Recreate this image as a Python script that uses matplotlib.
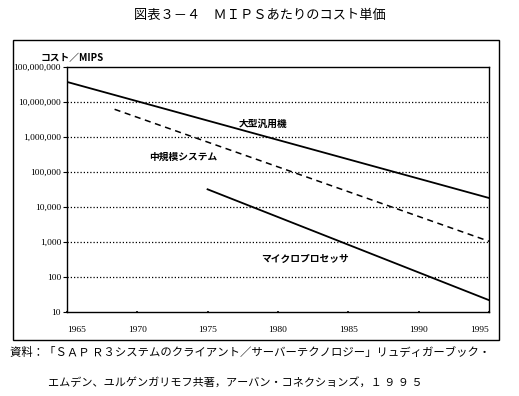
import matplotlib
matplotlib.use('Agg')
import matplotlib.pyplot as plt
from matplotlib.patches import Rectangle
from matplotlib.ticker import FixedLocator, FixedFormatter

plt.rcParams['font.family'] = ['Noto Sans CJK JP', 'DejaVu Sans']

# Data (cost per MIPS, log scale)
mainframe_years = [1965, 1995]
mainframe_cost = [3.7e7, 1.8e4]
midrange_years = [1968.4, 1995]
midrange_cost = [6.1e6, 1.05e3]
micro_years = [1975, 1995]
micro_cost = [3.2e4, 22]

x_ticks = [1965, 1970, 1975, 1980, 1985, 1990, 1995]
y_ticks = [10, 100, 1e3, 1e4, 1e5, 1e6, 1e7, 1e8]
y_labels = ['10', '100', '1,000', '10,000', '100,000', '1,000,000',
            '10,000,000', '100,000,000']

fig = plt.figure(figsize=(5.19, 3.96), dpi=100)
ax = fig.add_axes([0.1285, 0.2114, 0.8143, 0.6202])

ax.plot(mainframe_years, mainframe_cost, color='black', lw=1.3)
ax.plot(midrange_years, midrange_cost, color='black', lw=1.1, dashes=(4, 3))
ax.plot(micro_years, micro_cost, color='black', lw=1.3)

ax.set_yscale('log')
ax.set_ylim(10, 1e8)
ax.set_xlim(1965, 1995)

ax.yaxis.set_major_locator(FixedLocator(y_ticks))
ax.yaxis.set_major_formatter(FixedFormatter(y_labels))
ax.yaxis.set_minor_locator(FixedLocator([]))
ax.set_xticks(x_ticks)
ax.set_xticklabels([str(y) for y in x_ticks])

# dotted gridlines at each decade
for v in y_ticks[1:-1]:
    ax.axhline(v, color='black', lw=0.9, dashes=(1, 1.6))

for s in ax.spines.values():
    s.set_linewidth(1.0)

ax.tick_params(axis='y', length=3, width=0.8, pad=1, labelsize=6.8)
ax.tick_params(axis='x', length=2, width=1.2, direction='inout', pad=9,
               labelsize=6.8)
for lab in ax.get_yticklabels() + ax.get_xticklabels():
    lab.set_family(['Liberation Serif'])
xl = ax.get_xticklabels()
xl[0].set_ha('left')
xl[-1].set_ha('right')

# series labels
fig.text(263 / 519, 1 - 124 / 396, '大型汎用機', ha='center', va='center',
         fontsize=7, fontweight='bold')
fig.text(183 / 519, 1 - 157 / 396, '中規模システム', ha='center', va='center',
         fontsize=7, fontweight='bold')
fig.text(305 / 519, 1 - 259 / 396, 'マイクロプロセッサ', ha='center', va='center',
         fontsize=7, fontweight='bold')
fig.text(72 / 519, 1 - 58 / 396, 'コスト／MIPS', ha='center', va='center',
         fontsize=7, fontweight='bold')

# title and source
fig.text(260 / 519, 1 - 15 / 396, '図表３－４　ＭＩＰＳあたりのコスト単価',
         ha='center', va='center', fontsize=9.5)
fig.text(10 / 519, 1 - 352 / 396,
         '資料：「ＳＡＰ Ｒ３システムのクライアント／サーバーテクノロジー」リュディガーブック・',
         ha='left', va='center', fontsize=8.2)
fig.text(48 / 519, 1 - 382 / 396,
         'エムデン、ユルゲンガリモフ共著，アーバン・コネクションズ，１ ９ ９ ５',
         ha='left', va='center', fontsize=8)

# outer frame
fig.patches.append(Rectangle((12.7 / 519, 1 - 340 / 396), (499.3 - 12.7) / 519,
                             (340 - 40) / 396, transform=fig.transFigure,
                             fill=False, edgecolor='black', lw=1.0))

fig.savefig('out.png', dpi=100)
